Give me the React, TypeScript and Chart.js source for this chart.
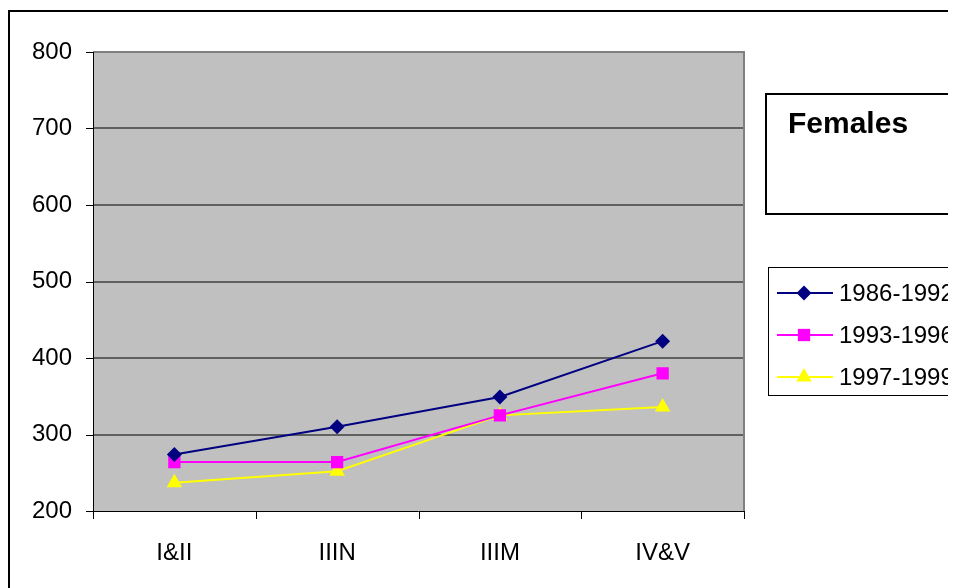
import React, { useEffect, useRef } from "react";
import { Chart, registerables } from "chart.js";

Chart.register(...registerables);

const categories = ["I&II", "IIIN", "IIIM", "IV&V"];
const series1986 = [274, 310, 349, 422];
const series1993 = [264, 264, 325, 380];
const series1997 = [237, 252, 325, 336];
const seriesLabels = ["1986-1992", "1993-1996", "1997-1999"];
const yTicks = [200, 300, 400, 500, 600, 700, 800];
const titleText = "Females";

const FONT = "'Liberation Sans', Arial, sans-serif";

function drawMarker(ctx: CanvasRenderingContext2D, style: string, x: number, y: number, r: number, color: string) {
  ctx.save();
  ctx.fillStyle = color;
  ctx.beginPath();
  if (style === "rectRot") {
    ctx.moveTo(x, y - r);
    ctx.lineTo(x + r, y);
    ctx.lineTo(x, y + r);
    ctx.lineTo(x - r, y);
  } else if (style === "rect") {
    const s = r * Math.SQRT1_2;
    ctx.rect(x - s, y - s, 2 * s, 2 * s);
  } else {
    const h = (r * 3) / Math.sqrt(3);
    ctx.moveTo(x - h / 2, y + r / 2);
    ctx.lineTo(x + h / 2, y + r / 2);
    ctx.lineTo(x, y - r);
  }
  ctx.closePath();
  ctx.fill();
  ctx.restore();
}

const decorPlugin = {
  id: "decor",
  beforeDraw(chart: any) {
    const { ctx, chartArea } = chart;
    const { left, top, right, bottom } = chartArea;
    ctx.save();
    ctx.fillStyle = "#ffffff";
    ctx.fillRect(0, 0, chart.width, chart.height);
    // outer frame
    ctx.strokeStyle = "#000000";
    ctx.lineWidth = 2;
    ctx.strokeRect(1, 3, chart.width + 10, chart.height + 10);
    // plot background
    ctx.fillStyle = "#c0c0c0";
    ctx.fillRect(left, top, right - left, bottom - top);
    // gridlines
    const ys = chart.scales.y;
    ctx.strokeStyle = "#606060";
    ctx.lineWidth = 2;
    yTicks.forEach((v) => {
      if (v === yTicks[0]) return;
      const py = Math.round(ys.getPixelForValue(v));
      ctx.beginPath();
      ctx.moveTo(left, py);
      ctx.lineTo(right, py);
      ctx.stroke();
    });
    // plot border top/right
    ctx.strokeStyle = "#808080";
    ctx.lineWidth = 2;
    ctx.beginPath();
    ctx.moveTo(left, top);
    ctx.lineTo(right, top);
    ctx.lineTo(right, bottom);
    ctx.stroke();
    // axes and tick marks
    ctx.strokeStyle = "#000000";
    ctx.lineWidth = 1;
    ctx.beginPath();
    ctx.moveTo(left + 0.5, top);
    ctx.lineTo(left + 0.5, bottom);
    ctx.moveTo(left, bottom + 0.5);
    ctx.lineTo(right, bottom + 0.5);
    yTicks.forEach((v) => {
      const py = Math.round(ys.getPixelForValue(v)) + 0.5;
      ctx.moveTo(left - 7, py);
      ctx.lineTo(left, py);
    });
    const xs = chart.scales.x;
    const step = xs.getPixelForTick(1) - xs.getPixelForTick(0);
    for (let i = 0; i <= categories.length; i++) {
      const px = i < categories.length ? xs.getPixelForTick(i) - step / 2 : right;
      const rx = Math.round(px) + 0.5;
      ctx.moveTo(rx, bottom);
      ctx.lineTo(rx, bottom + 8);
    }
    ctx.stroke();
    ctx.restore();
  },
  afterDraw(chart: any) {
    const { ctx } = chart;
    ctx.save();
    // title box
    ctx.fillStyle = "#ffffff";
    ctx.fillRect(757, 85, 300, 121);
    ctx.strokeStyle = "#000000";
    ctx.lineWidth = 2;
    ctx.strokeRect(758, 86, 300, 120);
    ctx.fillStyle = "#000000";
    ctx.font = `bold 30px ${FONT}`;
    ctx.textBaseline = "alphabetic";
    ctx.textAlign = "left";
    ctx.fillText(titleText, 780, 125);
    // legend box
    ctx.fillStyle = "#ffffff";
    ctx.fillRect(760, 259, 300, 128);
    ctx.strokeStyle = "#000000";
    ctx.lineWidth = 1;
    ctx.strokeRect(760.5, 259.5, 300, 128);
    const rowsY = [285, 327, 369];
    chart.data.datasets.forEach((ds: any, i: number) => {
      const y = rowsY[i];
      ctx.strokeStyle = ds.borderColor;
      ctx.lineWidth = 2;
      ctx.beginPath();
      ctx.moveTo(769, y);
      ctx.lineTo(825, y);
      ctx.stroke();
      drawMarker(ctx, ds.pointStyle, 796, y, ds.pointRadius, ds.pointBackgroundColor);
      ctx.fillStyle = "#000000";
      ctx.font = `24px ${FONT}`;
      ctx.textBaseline = "middle";
      ctx.fillText(ds.label, 831, y + 1);
    });
    ctx.restore();
  },
};

export default function App() {
  const ref = useRef<HTMLCanvasElement>(null);
  useEffect(() => {
    if (!ref.current) return;
    const mk = (label: string, data: number[], color: string, style: string, r: number) => ({
      label,
      data,
      borderColor: color,
      backgroundColor: color,
      pointBackgroundColor: color,
      pointBorderColor: color,
      pointBorderWidth: 0,
      pointStyle: style,
      pointRadius: r,
      borderWidth: 2,
      tension: 0,
    });
    const chart = new Chart(ref.current, {
      type: "line",
      data: {
        labels: categories,
        datasets: [
          mk(seriesLabels[0], series1986, "#000080", "rectRot", 7.5),
          mk(seriesLabels[1], series1993, "#ff00ff", "rect", 8.7),
          mk(seriesLabels[2], series1997, "#ffff00", "triangle", 9),
        ],
      },
      options: {
        responsive: false,
        animation: false,
        devicePixelRatio: 1,
        layout: { padding: { left: 0, top: 44, right: 212, bottom: 0 } },
        plugins: { legend: { display: false }, tooltip: { enabled: false }, title: { display: false } },
        scales: {
          x: {
            offset: true,
            grid: { display: false, offset: true },
            border: { display: false },
            ticks: { color: "#000", font: { family: FONT, size: 24 }, padding: 20, maxRotation: 0 },
            afterFit: (s: any) => {
              s.height = 77;
            },
          },
          y: {
            min: 200,
            max: 800,
            grid: { display: false },
            border: { display: false },
            ticks: {
              stepSize: 100,
              color: "#000",
              font: { family: FONT, size: 24 },
              padding: 13,
            },
            afterFit: (s: any) => {
              s.width = 85;
            },
          },
        },
      },
      plugins: [decorPlugin],
    });
    return () => chart.destroy();
  }, []);
  return <canvas ref={ref} width={948} height={580} style={{ display: "block" }} />;
}
